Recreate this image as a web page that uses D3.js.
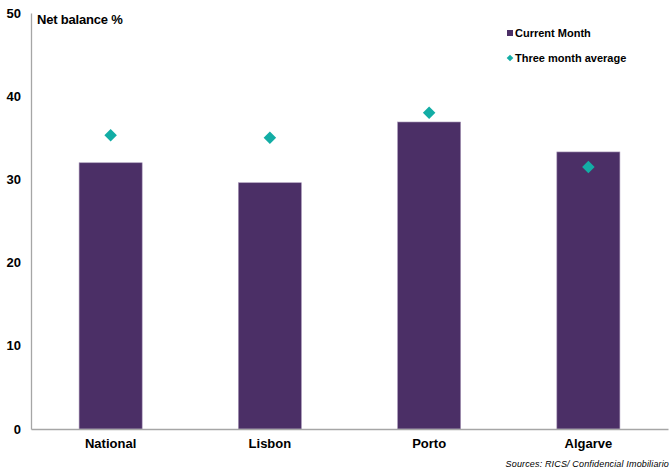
<!DOCTYPE html>
<html>
<head>
<meta charset="utf-8">
<script src="https://cdn.jsdelivr.net/npm/d3@7"></script>
<style>
  html, body { margin: 0; padding: 0; background: #fff; }
  svg { display: block; font-family: "Liberation Sans", Arial, sans-serif; }
</style>
</head>
<body>
<svg id="chart" width="671" height="473"></svg>
<script>
// Regional net balance: current month vs three-month average
const categories = ["National", "Lisbon", "Porto", "Algarve"];
const currentMonth = [32.0, 29.6, 36.9, 33.3];
const threeMonthAvg = [35.3, 35.0, 38.0, 31.5];
const yTicks = [0, 10, 20, 30, 40, 50];

const svg = d3.select("#chart");
const plotLeft = 31, plotRight = 668, plotTop = 13, plotBottom = 429;

const x = d3.scaleBand().domain(categories).range([plotLeft, plotRight])
  .paddingInner(0.604).paddingOuter(0.302);
const y = d3.scaleLinear().domain([0, 50]).range([plotBottom, plotTop]);

const barColor = "#4B2F66";
const diamondColor = "#13ADA5";

// Bars
svg.append("g").selectAll("rect").data(categories).join("rect")
  .attr("x", d => x(d))
  .attr("width", x.bandwidth())
  .attr("y", (d, i) => y(currentMonth[i]))
  .attr("height", (d, i) => y(0) - y(currentMonth[i]))
  .attr("fill", barColor)
  .attr("stroke", "#a898b8")
  .attr("stroke-width", 0.6);

// Three-month average markers
const diamond = d3.symbol().type(d3.symbolDiamond2).size(100);
svg.append("g").selectAll("path").data(categories).join("path")
  .attr("d", diamond)
  .attr("transform", (d, i) => `translate(${x(d) + x.bandwidth() / 2},${y(threeMonthAvg[i])})`)
  .attr("fill", diamondColor);

// Y axis
const yAxis = svg.append("g").attr("transform", `translate(${plotLeft},0)`)
  .call(d3.axisLeft(y).tickValues(yTicks).tickSize(0).tickPadding(10));
yAxis.select(".domain").attr("stroke", "#a6a6a6").attr("stroke-width", 1.3);
yAxis.selectAll("text").attr("font-size", 13).attr("font-weight", "bold")
  .attr("fill", "#000").attr("font-family", "Liberation Sans, Arial, sans-serif");

// X axis
const xAxis = svg.append("g").attr("transform", `translate(0,${plotBottom})`)
  .call(d3.axisBottom(x).tickSize(0).tickPadding(10));
xAxis.select(".domain").attr("stroke", "#a6a6a6").attr("stroke-width", 1.3);
xAxis.selectAll("text").attr("font-size", 13).attr("font-weight", "bold")
  .attr("fill", "#000").attr("font-family", "Liberation Sans, Arial, sans-serif");

// Axis title
svg.append("text").attr("x", 37).attr("y", 24)
  .attr("font-size", 13).attr("font-weight", "bold").attr("letter-spacing", -0.2)
  .text("Net balance %");

// Legend
const legend = svg.append("g");
legend.append("rect").attr("x", 507).attr("y", 30).attr("width", 6).attr("height", 6)
  .attr("fill", barColor);
legend.append("text").attr("x", 515).attr("y", 37)
  .attr("font-size", 11).attr("font-weight", "bold").text("Current Month");
legend.append("path").attr("d", d3.symbol().type(d3.symbolDiamond2).size(28))
  .attr("transform", "translate(510,58)").attr("fill", diamondColor);
legend.append("text").attr("x", 515).attr("y", 62)
  .attr("font-size", 11).attr("font-weight", "bold").text("Three month average");

// Source note
svg.append("text").attr("x", 669).attr("y", 467).attr("text-anchor", "end")
  .attr("font-size", 9).attr("font-style", "italic").attr("letter-spacing", 0.15)
  .text("Sources: RICS/ Confidencial  Imobiliario");
</script>
</body>
</html>
